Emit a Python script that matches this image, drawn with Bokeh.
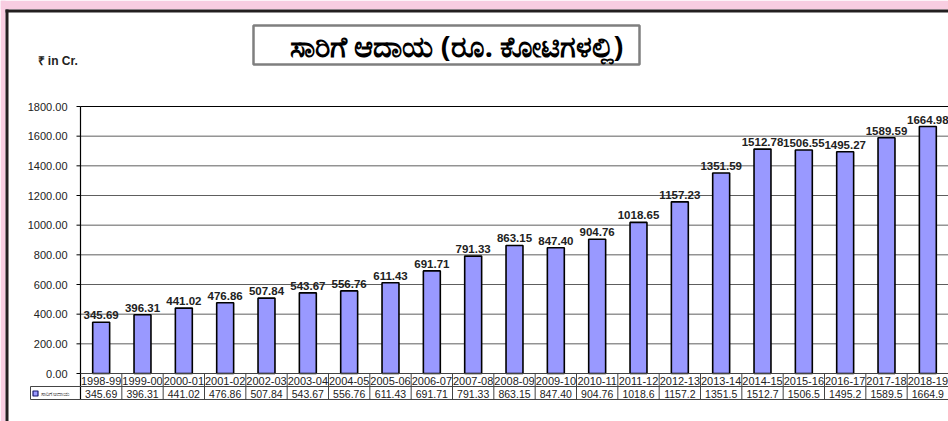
from bokeh.plotting import figure
from bokeh.models import Range1d, ColumnDataSource
from bokeh.core.properties import value
from bokeh.embed import file_html
from bokeh.resources import INLINE

# ---------------- data ----------------
years = ["1998-99", "1999-00", "2000-01", "2001-02", "2002-03", "2003-04", "2004-05",
         "2005-06", "2006-07", "2007-08", "2008-09", "2009-10", "2010-11", "2011-12",
         "2012-13", "2013-14", "2014-15", "2015-16", "2016-17", "2017-18", "2018-19"]
revenue = [345.69, 396.31, 441.02, 476.86, 507.84, 543.67, 556.76, 611.43, 691.71, 791.33,
           863.15, 847.40, 904.76, 1018.65, 1157.23, 1351.59, 1512.78, 1506.55, 1495.27,
           1589.59, 1664.98]
table_values = ["345.69", "396.31", "441.02", "476.86", "507.84", "543.67", "556.76",
                "611.43", "691.71", "791.33", "863.15", "847.40", "904.76", "1018.6",
                "1157.2", "1351.5", "1512.7", "1506.5", "1495.2", "1589.5", "1664.9"]
y_ticks = [0, 200, 400, 600, 800, 1000, 1200, 1400, 1600, 1800]
y_tick_labels = ["0.00", "200.00", "400.00", "600.00", "800.00", "1000.00", "1200.00",
                 "1400.00", "1600.00", "1800.00"]
title_text = "ಸಾರಿಗೆ ಆದಾಯ (ರೂ. ಕೋಟಿಗಳಲ್ಲಿ)"
unit_text = "₹ in Cr."
series_name = "ಸಾರಿಗೆ ಆದಾಯ"

# ---------------- layout (page pixels) ----------------
W, H = 948, 421
PLOT_X0 = 80.0
CELL = (948.0 - PLOT_X0) / len(years)
ZERO_Y = 373.0
TOP_Y = 106.0
YMAX = 1800.0
UPP = YMAX / (ZERO_Y - TOP_Y)  # value units per pixel


def dx(px):
    return (px - PLOT_X0) / CELL


def dy(py):
    return (ZERO_Y - py) * UPP


FONT = value("Liberation Sans")
BAR = "#9999ff"
DARK = "#231f20"
PINK = "#f8cde1"

p = figure(width=W, height=H, x_range=Range1d(dx(0), dx(W)),
           y_range=Range1d(dy(H), dy(0)), x_axis_type=None, y_axis_type=None,
           min_border=0, toolbar_location=None, output_backend="svg", title=None,
           outline_line_color=None, background_fill_color="white",
           border_fill_color="white")

n = len(years)
xc = [i + 0.5 for i in range(n)]

# page background strips and panel border
p.quad(left=[dx(0), dx(0)], right=[dx(W), dx(5)], top=[dy(0), dy(0)], bottom=[dy(9), dy(H)],
       fill_color=PINK, line_color=None)
p.segment(x0=[dx(5), dx(6.5)], x1=[dx(W), dx(6.5)], y0=[dy(10.5), dy(9)],
          y1=[dy(10.5), dy(H)], line_color=DARK, line_width=3)

# gridlines
grid_y = y_ticks[1:-1]
p.segment(x0=[0] * len(grid_y), x1=[n] * len(grid_y), y0=grid_y, y1=grid_y,
          line_color="#5e5e5e", line_width=1)
p.segment(x0=[0], x1=[n], y0=[y_ticks[-1]], y1=[y_ticks[-1]], line_color="black", line_width=1.2)
# tick marks
p.segment(x0=[dx(76)] * len(y_ticks), x1=[0] * len(y_ticks), y0=y_ticks, y1=y_ticks,
          line_color="black", line_width=1)
# y tick labels
p.text(x=[dx(67)] * len(y_ticks), y=y_ticks, text=y_tick_labels, text_font=FONT,
       text_font_size="11px", text_align="right", text_baseline="middle", text_color="#222222")

# bars
src = ColumnDataSource(dict(x=xc, top=revenue,
                            lab=[f"{v:.2f}" for v in revenue],
                            ly=[v + 7 * UPP for v in revenue]))
p.vbar(x="x", top="top", bottom=0, width=0.41, source=src, fill_color=BAR,
       line_color="black", line_width=1.6)
p.text(x="x", y="ly", text="lab", source=src, text_font=FONT, text_font_size="11.5px",
       text_font_style="bold", text_align="center", text_baseline="alphabetic",
       text_color="#222222")

# axis line
p.segment(x0=[0], x1=[0], y0=[dy(399)], y1=[YMAX], line_color="black", line_width=1.2)

# data table
ROW1 = 386.0
ROW2 = 399.0
p.segment(x0=[0, dx(30), dx(30)], x1=[n, n, n], y0=[0, dy(ROW1), dy(ROW2)],
          y1=[0, dy(ROW1), dy(ROW2)], line_color="#444444", line_width=1)
p.segment(x0=list(range(1, n + 1)) + [dx(30)], x1=list(range(1, n + 1)) + [dx(30)],
          y0=[0] * n + [dy(ROW1)], y1=[dy(ROW2)] * (n + 1), line_color="#444444", line_width=1)
p.text(x=xc, y=[dy(380)] * n, text=years, text_font=FONT, text_font_size="11px",
       text_align="center", text_baseline="middle", text_color="#222222")
p.text(x=xc, y=[dy(393)] * n, text=table_values, text_font=FONT, text_font_size="10.5px",
       text_align="center", text_baseline="middle", text_color="#222222")
p.scatter(x=[dx(35)], y=[dy(393)], marker="square", size=5, fill_color=BAR,
          line_color="#1a1a6e", line_width=1.2)
p.text(x=[dx(40)], y=[dy(393)], text=[series_name], text_font=value("Noto Sans"),
       text_font_size="6px", text_align="left", text_baseline="middle", text_color="#333333")

# title box
p.quad(left=[dx(253)], right=[dx(639)], top=[dy(25)], bottom=[dy(64)], fill_color="white",
       line_color="#7f7f7f", line_width=2.5)
p.text(x=[dx(456)], y=[dy(45)], text=[title_text], text_font=value("Noto Sans"),
       text_font_size="29px", text_font_style="bold", text_align="center",
       text_baseline="middle", text_color="black")

# unit label
p.text(x=[dx(37)], y=[dy(60)], text=[unit_text], text_font=FONT, text_font_size="12px",
       text_font_style="bold", text_align="left", text_baseline="middle", text_color="#222222")

open("out.html", "w").write(file_html(p, INLINE))
